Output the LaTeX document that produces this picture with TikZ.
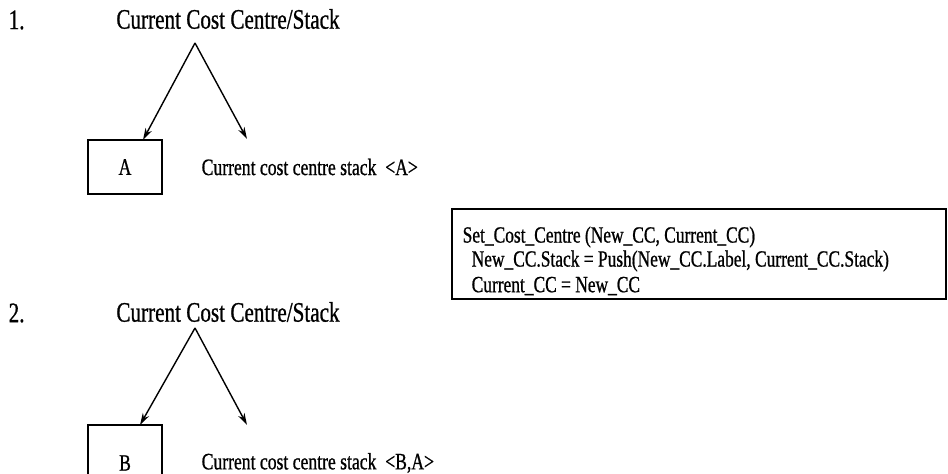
\documentclass[tikz,border=0pt]{standalone}
\usepackage{fontspec}
\setmainfont[FakeStretch=0.75,FakeBold=0.8]{Liberation Serif}
\usetikzlibrary{arrows.meta}
\begin{document}
\begin{tikzpicture}[x=1pt,y=-1pt,line width=1.4pt,
  ttl/.style={font=\fontsize{28.2}{32}\selectfont,inner sep=0pt},
  lbl/.style={font=\fontsize{23.5}{27}\selectfont,inner sep=0pt,anchor=west},
  codeln/.style={font=\fontsize{23.2}{26}\selectfont,inner sep=0pt,anchor=west},
  ccbox/.style={draw,minimum width=74pt,inner sep=0pt,font=\fontsize{23.5}{27}\selectfont},
  arr/.style={-{Stealth[length=12pt,width=7pt]}}]
\clip (0,0) rectangle (948,474);
\fill[white] (0,0) rectangle (948,474);
% panel 1
\node[ttl,anchor=west] (n1) at (8,20) {1.};
\node[ttl] (t1) at (228,19) {Current Cost Centre/Stack};
\coordinate (ap1) at (195,43);
\node[ccbox,minimum height=54pt] (bA) at (125,167) {A};
\coordinate (tA) at (143,140);
\coordinate (tR1) at (247,139);
\draw[arr] (ap1) -- (tA);
\draw[arr] (ap1) -- (tR1);
\node[lbl] (s1) at (201,167) {Current cost centre stack\ \ <A>};
% code box
\node[draw,minimum width=494pt,minimum height=90pt,inner sep=0pt] (cb) at (699,254) {};
\node[codeln] (c1) at (462,237) {Set\_Cost\_Centre (New\_CC, Current\_CC)};
\node[codeln] (c2) at (471,261) {New\_CC.Stack = Push(New\_CC.Label, Current\_CC.Stack)};
\node[codeln] (c3) at (471,286) {Current\_CC = New\_CC};
% panel 2
\node[ttl,anchor=west] (n2) at (8,313) {2.};
\node[ttl] (t2) at (228,312) {Current Cost Centre/Stack};
\coordinate (ap2) at (195,328);
\node[ccbox,minimum height=76pt] (bB) at (125,463) {B};
\coordinate (tB) at (140,425);
\coordinate (tR2) at (247,425);
\draw[arr] (ap2) -- (tB);
\draw[arr] (ap2) -- (tR2);
\node[lbl] (s2) at (201,463) {Current cost centre stack\ \ <B,A>};
\end{tikzpicture}
\end{document}
